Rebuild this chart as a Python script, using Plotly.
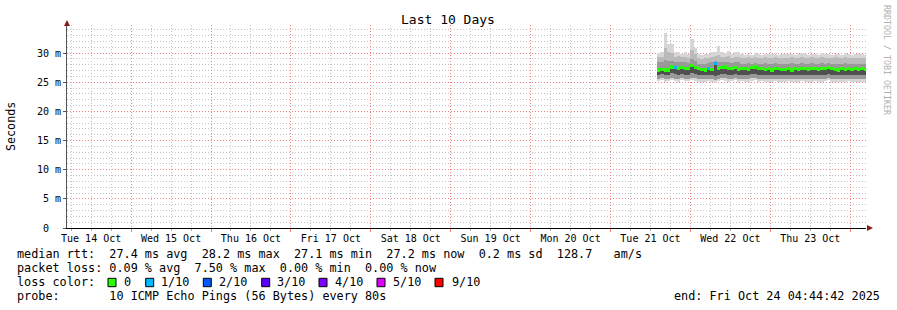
import plotly.graph_objects as go
from datetime import datetime, timedelta

# ---------------- data ----------------
range_start = "2025-10-14 04:44:42"
range_end = "2025-10-24 04:44:42"
first_bin = "2025-10-21 14:00:00"   # hourly bins

median = [
    27.1, 27.2, 27.1, 27.1, 27.6, 27.5, 27.4, 27.5, 27.3, 27.4,
    27.8, 27.5, 27.3, 27.2, 27.1, 27.3, 27.2, 28.2, 27.3, 27.5,
    27.6, 27.4, 27.3, 27.5, 27.2, 27.4, 27.3, 27.2, 27.5, 27.6,
    27.4, 27.3, 27.2, 27.3, 27.1, 27.4, 27.3, 27.2, 27.2, 27.3,
    27.1, 27.3, 27.2, 27.4, 27.3, 27.2, 27.3, 27.3, 27.2, 27.3,
    27.3, 27.5, 27.3, 27.2, 27.1, 27.3, 27.2, 27.3, 27.2, 27.3,
    27.2, 27.3, 27.2]
ping_max = [
    30.0, 30.1, 33.5, 31.6, 31.5, 30.1, 30.2, 29.9, 30.1, 29.9,
    32.4, 30.9, 29.8, 29.7, 29.9, 29.8, 30.1, 30.2, 31.2, 30.2,
    30.0, 30.3, 29.9, 30.1, 30.2, 29.8, 29.7, 29.9, 29.7, 30.0,
    29.8, 29.7, 29.9, 29.8, 29.8, 30.0, 29.7, 29.9, 29.8, 29.8,
    29.9, 29.7, 29.8, 30.0, 29.8, 29.7, 29.9, 29.8, 29.7, 30.0,
    29.8, 29.8, 29.7, 29.9, 29.8, 29.7, 30.0, 29.8, 29.7, 29.9,
    29.8, 29.8, 29.7]
ping_p90 = [
    29.4, 29.4, 30.8, 30.1, 30.0, 29.3, 29.5, 29.3, 29.4, 29.2,
    30.6, 29.8, 29.1, 29.0, 29.2, 29.1, 29.4, 29.5, 29.6, 29.4,
    29.3, 29.5, 29.2, 29.3, 29.4, 29.2, 29.1, 29.3, 29.1, 29.3,
    29.2, 29.1, 29.3, 29.1, 29.2, 29.3, 29.1, 29.2, 29.1, 29.2,
    29.3, 29.1, 29.2, 29.3, 29.1, 29.1, 29.3, 29.2, 29.1, 29.3,
    29.2, 29.1, 29.1, 29.3, 29.2, 29.1, 29.3, 29.2, 29.1, 29.2,
    29.1, 29.2, 29.1]
ping_p75 = [
    28.5, 28.4, 28.8, 28.6, 28.7, 28.4, 28.5, 28.4, 28.5, 28.3,
    29.0, 28.6, 28.2, 28.1, 28.2, 28.3, 28.4, 28.7, 28.4, 28.5,
    28.4, 28.5, 28.3, 28.4, 28.5, 28.2, 28.2, 28.3, 28.2, 28.3,
    28.2, 28.2, 28.3, 28.1, 28.2, 28.3, 28.2, 28.2, 28.1, 28.2,
    28.3, 28.1, 28.2, 28.3, 28.2, 28.1, 28.3, 28.2, 28.2, 28.3,
    28.2, 28.3, 28.1, 28.2, 28.2, 28.1, 28.3, 28.2, 28.1, 28.2,
    28.2, 28.2, 28.1]
ping_p25 = [
    26.3, 26.4, 26.2, 26.3, 26.5, 26.4, 26.3, 26.4, 26.3, 26.3,
    26.5, 26.4, 26.2, 26.3, 26.2, 26.3, 26.2, 26.0, 26.3, 26.4,
    26.4, 26.3, 26.3, 26.4, 26.2, 26.3, 26.3, 26.2, 26.4, 26.4,
    26.3, 26.3, 26.2, 26.3, 26.2, 26.3, 26.3, 26.2, 26.2, 26.3,
    26.2, 26.3, 26.2, 26.3, 26.3, 26.2, 26.3, 26.3, 26.2, 26.3,
    26.3, 26.4, 26.3, 26.2, 26.2, 26.3, 26.2, 26.3, 26.2, 26.3,
    26.2, 26.3, 26.2]
ping_p10 = [
    25.6, 25.7, 25.5, 25.6, 25.7, 25.6, 25.6, 25.7, 25.6, 25.6,
    25.8, 25.7, 25.5, 25.6, 25.5, 25.6, 25.5, 25.4, 25.6, 25.7,
    25.7, 25.6, 25.6, 25.7, 25.5, 25.6, 25.6, 25.5, 25.7, 25.7,
    25.6, 25.6, 25.5, 25.6, 25.5, 25.6, 25.6, 25.5, 25.5, 25.6,
    25.5, 25.6, 25.5, 25.6, 25.6, 25.5, 25.6, 25.6, 25.5, 25.6,
    25.6, 25.7, 25.6, 25.5, 25.5, 25.6, 25.5, 25.6, 25.5, 25.6,
    25.5, 25.6, 25.5]
ping_min = [
    25.2, 25.3, 25.0, 25.2, 25.3, 25.2, 25.1, 25.3, 25.2, 25.2,
    25.3, 25.2, 25.0, 25.1, 25.0, 25.2, 25.1, 24.9, 25.2, 25.3,
    25.2, 25.1, 25.2, 25.3, 25.0, 25.2, 25.1, 25.0, 25.2, 25.3,
    25.1, 25.2, 25.0, 25.1, 25.0, 25.2, 25.1, 25.0, 25.1, 25.2,
    25.0, 25.1, 25.0, 25.2, 25.1, 25.0, 25.1, 25.2, 25.0, 25.1,
    25.2, 25.3, 25.1, 25.0, 25.0, 25.1, 25.0, 25.2, 25.0, 25.1,
    25.0, 25.1, 25.0]
loss = [0] * 63
loss[5] = 1
loss[15] = 1
loss[17] = 1

y_tick_vals = [0, 5, 10, 15, 20, 25, 30]
y_tick_text = ["0\u00a0\u00a0", "5 m", "10 m", "15 m", "20 m", "25 m", "30 m"]

loss_labels = ["0", "1/10", "2/10", "3/10", "4/10", "5/10", "9/10"]
loss_colors = ["#26ff00", "#00b8ff", "#0059ff", "#5e00ff", "#7e00ff", "#dd00ff", "#ff0000"]

stat_median = "median rtt:  27.4 ms avg  28.2 ms max  27.1 ms min  27.2 ms now  0.2 ms sd  128.7   am/s"
stat_loss = "packet loss: 0.09 % avg  7.50 % max  0.00 % min  0.00 % now"
stat_probe = "probe:       10 ICMP Echo Pings (56 Bytes) every 80s"
stat_end = "end: Fri Oct 24 04:44:42 2025"

# ---------------- figure ----------------
W, H = 897, 310
L, R, T, B = 67, 866, 25, 228
MONO = "DejaVu Sans Mono"

t0 = datetime.strptime(first_bin, "%Y-%m-%d %H:%M:%S")
xs = [t0 + timedelta(minutes=30) + timedelta(hours=i) for i in range(len(median))]
bw = 3600 * 1000


def band(lo, hi, color):
    return go.Bar(x=xs, base=lo, y=[h - l for l, h in zip(lo, hi)], width=bw,
                  marker=dict(color=color, line=dict(width=0)), hoverinfo="skip",
                  showlegend=False)


fig = go.Figure()
fig.add_trace(band(ping_min, ping_max, "#d6d6d6"))
fig.add_trace(band(ping_p10, ping_p90, "#bababa"))
fig.add_trace(band(ping_p10, ping_p75, "#999999"))
fig.add_trace(band(ping_p25, median, "#505050"))
fig.add_trace(band([m - 0.28 for m in median], [m + 0.28 for m in median],
                   [loss_colors[l] for l in loss]))


def px(x):
    return (x - L) / (R - L)


def py(y):
    return (B - y) / (B - T)


def nb(s):
    return s.replace(" ", "\u00a0")


anns = []


def ann(text, x, y, xanchor="left", size=11.8, color="#000", angle=0):
    anns.append(dict(text=nb(text), x=px(x), y=py(y), xref="paper", yref="paper",
                     xanchor=xanchor, yanchor="middle", showarrow=False,
                     textangle=angle, borderpad=0,
                     font=dict(family=MONO, size=size, color=color)))


ann("Last 10 Days", 448, 19, xanchor="center", size=13)
ann("Seconds", 11, 127, xanchor="center", size=11.7, angle=-90)
ann("RRDTOOL / TOBI OETIKER", 887, 60, xanchor="center", size=8.3, color="#b0b0b0", angle=90)
ann(stat_median, 16, 254.3)
ann(stat_loss, 16, 268.3)
ann("loss color:", 16, 282.3)
ann(stat_probe, 16, 296)
ann(stat_end, 881, 296, xanchor="right")

shapes = []
sq_x = [108, 145.7, 203.3, 261.7, 319, 377, 435]
tx_x = [123, 160.3, 218.3, 276, 334, 392, 451]
for lab, col, sx, tx in zip(loss_labels, loss_colors, sq_x, tx_x):
    shapes.append(dict(type="rect", xref="paper", yref="paper",
                       x0=px(sx), x1=px(sx + 8), y0=py(286.7), y1=py(278.3),
                       fillcolor=col, line=dict(color="#000", width=1)))
    ann(lab, tx, 282.3)

arrow_col = "#8b1a1a"
shapes.append(dict(type="path", xref="paper", yref="paper",
                   path=f"M {px(64)},{py(26)} L {px(67)},{py(20)} L {px(70)},{py(26)} Z",
                   fillcolor=arrow_col, line=dict(color=arrow_col, width=0)))
shapes.append(dict(type="path", xref="paper", yref="paper",
                   path=f"M {px(867)},{py(225)} L {px(873)},{py(228)} L {px(867)},{py(231)} Z",
                   fillcolor=arrow_col, line=dict(color=arrow_col, width=0)))

major_grid = "rgb(245,130,130)"
minor_grid = "#c4c4c4"

fig.update_layout(
    width=W, height=H,
    margin=dict(l=L, r=W - R, t=T, b=H - B, pad=0),
    paper_bgcolor="#ffffff", plot_bgcolor="#ffffff",
    barmode="overlay", bargap=0, showlegend=False,
    annotations=anns, shapes=shapes,
    xaxis=dict(
        type="date", range=[range_start, range_end],
        tick0="2025-10-14", dtick=86400000, ticklabelmode="period",
        tickformat="%a %d %b", ticklabelstandoff=-2,
        showgrid=True, gridcolor=major_grid, griddash="1px,2px", gridwidth=1,
        ticks="outside", ticklen=3, tickcolor=major_grid,
        showline=True, linecolor="#000", linewidth=1,
        tickfont=dict(family=MONO, size=10, color="#000"),
        minor=dict(dtick=6 * 3600000, showgrid=True, gridcolor=minor_grid,
                   griddash="1px,2px", ticks="outside", ticklen=2, tickcolor="#aaa"),
        fixedrange=True, zeroline=False,
    ),
    yaxis=dict(
        range=[0, 34.8], tickvals=y_tick_vals, ticktext=y_tick_text,
        showgrid=True, gridcolor=major_grid, griddash="1px,2px",
        ticks="outside", ticklen=3, tickcolor="#555",
        showline=True, linecolor="#555", linewidth=1,
        tickfont=dict(family=MONO, size=10, color="#000"),
        minor=dict(dtick=1, showgrid=True, gridcolor=minor_grid, griddash="1px,2px"),
        zeroline=False, fixedrange=True,
    ),
)

fig.write_html("out.html")
